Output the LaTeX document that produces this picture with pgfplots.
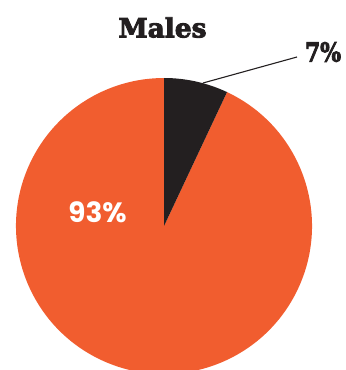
\documentclass[border=0pt]{standalone}
\usepackage{pgfplots}
\usepackage{pgfplotstable}
\pgfplotsset{compat=1.18}
\usepackage{fontspec}
\setmainfont{Poppins}
\newfontfamily\slab{DejaVu Serif}
\definecolor{pieorange}{HTML}{F15D2F}
\definecolor{pieblack}{HTML}{231F20}
\newcommand{\heavy}[1]{\special{pdf:literal 2 Tr 0.9 w}#1\special{pdf:literal 0 Tr}}
\pgfplotstableread{
share value
other 7
males 93
}\piedata
\begin{document}
\begin{tikzpicture}
\pgfplotstablegetelem{0}{value}\of\piedata \let\va\pgfplotsretval
\pgfplotstablegetelem{1}{value}\of\piedata \let\vb\pgfplotsretval
\pgfmathsetmacro{\aend}{90-3.6*\va}
\pgfmathsetmacro{\bend}{\aend-3.6*\vb}
\begin{axis}[x=1bp, y=1bp, xmin=0, xmax=346, ymin=0, ymax=370, hide axis, clip=true]
\path (axis cs:0,0) rectangle (axis cs:346,370);
\fill[pieorange] (axis cs:164,144) -- ([shift={(\aend:148bp)}]axis cs:164,144) arc[start angle=\aend, end angle=\bend, radius=148bp] -- cycle;
\fill[pieblack] (axis cs:164,144) -- (axis cs:164,292) arc[start angle=90, end angle=\aend, radius=148bp] -- cycle;
\draw[pieblack, line width=1.1bp] (axis cs:203,287) -- (axis cs:297,313);
\node[font=\slab\bfseries\fontsize{26.5}{27}\selectfont, text=pieblack] at (axis cs:162.5,342.5) {\heavy{Males}};
\node[font=\slab\bfseries\fontsize{26.5}{27}\selectfont, text=pieblack] at (axis cs:323,318) {\scalebox{0.83}[1]{\heavy{\va\%}}};
\node[font=\bfseries\fontsize{28}{28}\selectfont, text=white] at (axis cs:97.5,157.5) {\vb\%};
\end{axis}
\path (current axis.south west) rectangle (current axis.north east);
\end{tikzpicture}
\end{document}
